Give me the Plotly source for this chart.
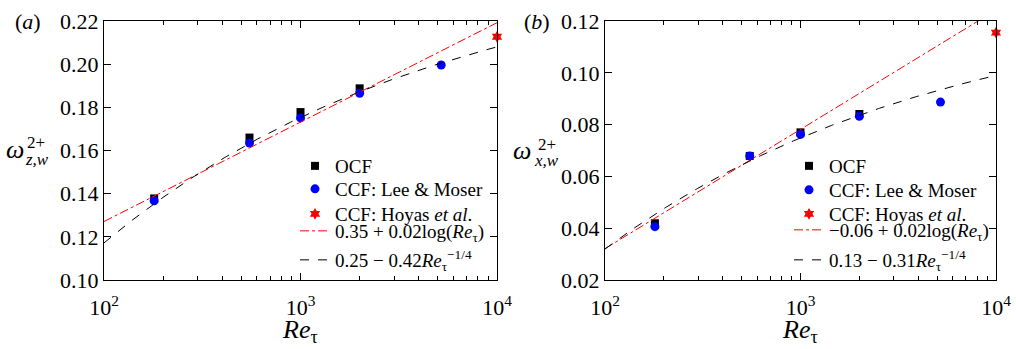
import numpy as np
import plotly.graph_objects as go

# ---- data ----
re_ocf = [180, 550, 1000, 2000]
re_lm = [180, 550, 1000, 2000, 5200]
re_hoyas = [10000]

wz_ocf = [0.1378, 0.1660, 0.1778, 0.1888]
wz_lm = [0.1367, 0.1635, 0.1751, 0.1865, 0.1996]
wz_hoyas = [0.2127]

wx_ocf = [0.0419, 0.0679, 0.0770, 0.0841]
wx_lm = [0.0406, 0.0679, 0.0762, 0.0832, 0.0887]
wx_hoyas = [0.1155]

# fit coefficients (a + b ln Re, a - b Re^-1/4)
fit_log_z = (0.035, 0.02)
fit_pow_z = (0.25, 0.42)
fit_log_x = (-0.06, 0.02)
fit_pow_x = (0.13, 0.31)

label_log_z = "0.35 + 0.02log(<i>Re</i><sub>τ</sub>)"
label_pow_z = "0.25 − 0.42<i>Re</i><sub>τ</sub><sup>−1/4</sup>"
label_log_x = "−0.06 + 0.02log(<i>Re</i><sub>τ</sub>)"
label_pow_x = "0.13 − 0.31<i>Re</i><sub>τ</sub><sup>−1/4</sup>"

x_tickvals = [100, 1000, 10000]
x_ticktext = ["10<sup>2</sup>", "10<sup>3</sup>", "10<sup>4</sup>"]
yz_ticks = [0.10, 0.12, 0.14, 0.16, 0.18, 0.20, 0.22]
yx_ticks = [0.02, 0.04, 0.06, 0.08, 0.10, 0.12]

FONT = "Liberation Serif"
W, H = 1016, 349

re_fit = np.logspace(2, 4, 300)

fig = go.Figure()


def add_panel(xa, ya, legs, ocf, lm, hoy, flog, fpow, llog, lpow):
    fig.add_trace(go.Scatter(x=re_ocf, y=ocf, mode="markers", name="OCF",
                             marker=dict(symbol="square", size=8, color="black"),
                             xaxis=xa, yaxis=ya, legend=legs[0]))
    fig.add_trace(go.Scatter(x=re_lm, y=lm, mode="markers", name="CCF: Lee &amp; Moser",
                             marker=dict(symbol="circle", size=9, color="#0000ff"),
                             xaxis=xa, yaxis=ya, legend=legs[1]))
    fig.add_trace(go.Scatter(x=re_hoyas, y=hoy, mode="markers", name="CCF: Hoyas <i>et al</i>.",
                             marker=dict(symbol="hexagram", size=9, color="#ff0000"),
                             cliponaxis=False, xaxis=xa, yaxis=ya, legend=legs[2]))
    fig.add_trace(go.Scatter(x=re_fit, y=flog[0] + flog[1] * np.log(re_fit), mode="lines",
                             name=llog, line=dict(color="#ff0000", width=1, dash="dashdot"),
                             xaxis=xa, yaxis=ya, legend=legs[3]))
    fig.add_trace(go.Scatter(x=re_fit, y=fpow[0] - fpow[1] * re_fit ** -0.25, mode="lines",
                             name=lpow, line=dict(color="black", width=1, dash="dash"),
                             xaxis=xa, yaxis=ya, legend=legs[4]))


legs_a = ["legend", "legend2", "legend3", "legend4", "legend5"]
legs_b = ["legend6", "legend7", "legend8", "legend9", "legend10"]
add_panel("x", "y", legs_a, wz_ocf, wz_lm, wz_hoyas, fit_log_z, fit_pow_z, label_log_z, label_pow_z)
add_panel("x2", "y2", legs_b, wx_ocf, wx_lm, wx_hoyas, fit_log_x, fit_pow_x, label_log_x, label_pow_x)

L = dict(l=104, r=497, l2=605, r2=996, t=21, b=280)


def px(x):
    return x / W


def py(y):
    return 1 - y / H


xcommon = dict(type="log", range=[2, 4], tickvals=x_tickvals, ticktext=x_ticktext,
               ticks="inside", ticklen=7, tickwidth=1, tickcolor="black",
               showline=True, linecolor="black", linewidth=1, mirror="ticks",
               showgrid=False, zeroline=False, automargin=False, ticklabelstandoff=8,
               minor=dict(ticks="inside", ticklen=4, tickwidth=1, tickcolor="black",
                          dtick="D1", showgrid=False),
               tickfont=dict(family=FONT, size=22, color="black"))
ycommon = dict(ticks="inside", ticklen=7, tickwidth=1, tickcolor="black",
               showline=True, linecolor="black", linewidth=1, mirror="ticks",
               showgrid=False, zeroline=False, automargin=False,
               tickfont=dict(family=FONT, size=22, color="black"))


def legend_at(x, y):
    return dict(x=px(x), y=py(y), xanchor="left", yanchor="top",
                bgcolor="rgba(0,0,0,0)", font=dict(family=FONT, size=19, color="black"),
                tracegroupgap=0, itemwidth=30, borderwidth=0)


rows_a = [147, 170, 195, 212, 241]
rows_b = [147, 171, 195, 211, 241]
legend_layout = {}
for name, top in zip(legs_a, rows_a):
    legend_layout[name] = legend_at(295, top)
for name, top in zip(legs_b, rows_b):
    legend_layout[name] = legend_at(789, top)

fig.update_layout(
    width=W, height=H,
    margin=dict(l=0, r=0, t=0, b=0, pad=0, autoexpand=False),
    paper_bgcolor="white", plot_bgcolor="white",
    font=dict(family=FONT, color="black"),
    xaxis=dict(domain=[px(L["l"]), px(L["r"])], anchor="y", **xcommon),
    yaxis=dict(domain=[py(L["b"]), py(L["t"])], anchor="x", range=[0.10, 0.22],
               tickvals=yz_ticks, ticktext=[f"{v:.2f}" for v in yz_ticks], **ycommon),
    xaxis2=dict(domain=[px(L["l2"]), px(L["r2"])], anchor="y2", **xcommon),
    yaxis2=dict(domain=[py(L["b"]), py(L["t"])], anchor="x2", range=[0.02, 0.12],
                tickvals=yx_ticks, ticktext=[f"{v:.2f}" for v in yx_ticks], **ycommon),
    showlegend=True,
    **legend_layout,
)

ann = []


def a(text, x, y, size, xanchor="center", yanchor="middle"):
    ann.append(dict(text=text, x=px(x), y=py(y), xref="paper", yref="paper",
                    showarrow=False, xanchor=xanchor, yanchor=yanchor,
                    font=dict(family=FONT, size=size, color="black")))


a("(<i>a</i>)", 28, 22, 22)
a("(<i>b</i>)", 537, 22, 22)
a("<i>Re</i><sub>τ</sub>", 300, 331, 26)
a("<i>Re</i><sub>τ</sub>", 800, 331, 26)
# y-axis titles
a("<i>ω</i>", 15, 149, 26)
a("2+", 25, 142, 17, xanchor="left")
a("<i>z,w</i>", 23, 159, 17, xanchor="left")
a("<i>ω</i>", 522, 150, 26)
a("2+", 536, 144, 17, xanchor="left")
a("<i>x,w</i>", 532, 160, 17, xanchor="left")

fig.update_layout(annotations=ann)

fig.write_html("out.html")
